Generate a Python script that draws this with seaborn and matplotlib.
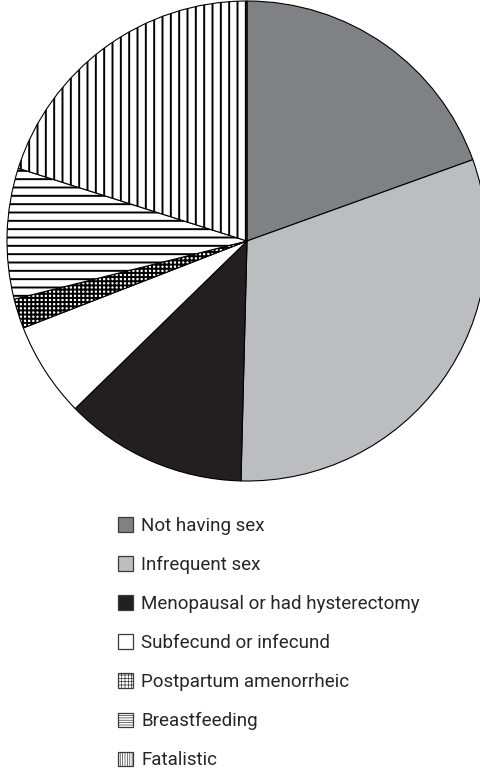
import matplotlib
matplotlib.use("Agg")
import matplotlib.pyplot as plt
import seaborn as sns

# Reasons for unmet need (share of women, %)
categories = [
    "Not having sex",
    "Infrequent sex",
    "Menopausal or had hysterectomy",
    "Subfecund or infecund",
    "Postpartum amenorrheic",
    "Breastfeeding",
    "Fatalistic",
]
shares = [19.5, 30.9, 12.3, 6.4, 2.0, 8.8, 20.1]
fill_colors = ["#808185", "#bcbdc1", "#231f20", "#ffffff", "#ffffff", "#ffffff", "#ffffff"]
hatches = ["", "", "", "", "++++", "--", "||"]
key_hatches = ["", "", "", "", "+++++", "-------", "|||||||"]

sns.set_theme(style="white")
plt.rcParams["font.family"] = ["Roboto", "DejaVu Sans"]
plt.rcParams["hatch.linewidth"] = 1.4
plt.rcParams["hatch.color"] = "black"

W, H = 481, 770
fig = plt.figure(figsize=(W / 100, H / 100), dpi=100)
fig.patch.set_facecolor("white")

cx, cy, r = 247, 241, 240
ax = fig.add_axes([(cx - r) / W, 1 - (cy + r) / H, 2 * r / W, 2 * r / H])
wedges, _ = ax.pie(
    shares,
    colors=fill_colors,
    hatch=hatches,
    startangle=90,
    counterclock=False,
    radius=1,
    wedgeprops=dict(edgecolor="black", linewidth=0.8),
)
ax.set_xlim(-1, 1)
ax.set_ylim(-1, 1)
ax.set_axis_off()

leg = fig.legend(
    wedges,
    categories,
    loc="upper left",
    bbox_to_anchor=(118 / W, 1 - 517 / H),
    frameon=False,
    fontsize=13.5,
    handlelength=0.8,
    handleheight=0.8,
    handletextpad=0.45,
    labelspacing=1.12,
    borderpad=0,
    borderaxespad=0,
)
for key, kh in zip(leg.legend_handles, key_hatches):
    key.set_edgecolor("#3a3a3a")
    key.set_linewidth(0.9)
    key.set_hatch(kh)
    if kh and hasattr(key, "set_hatch_linewidth"):
        key.set_hatch_linewidth(0.5)

fig.savefig("out.png", dpi=100, facecolor="white")
